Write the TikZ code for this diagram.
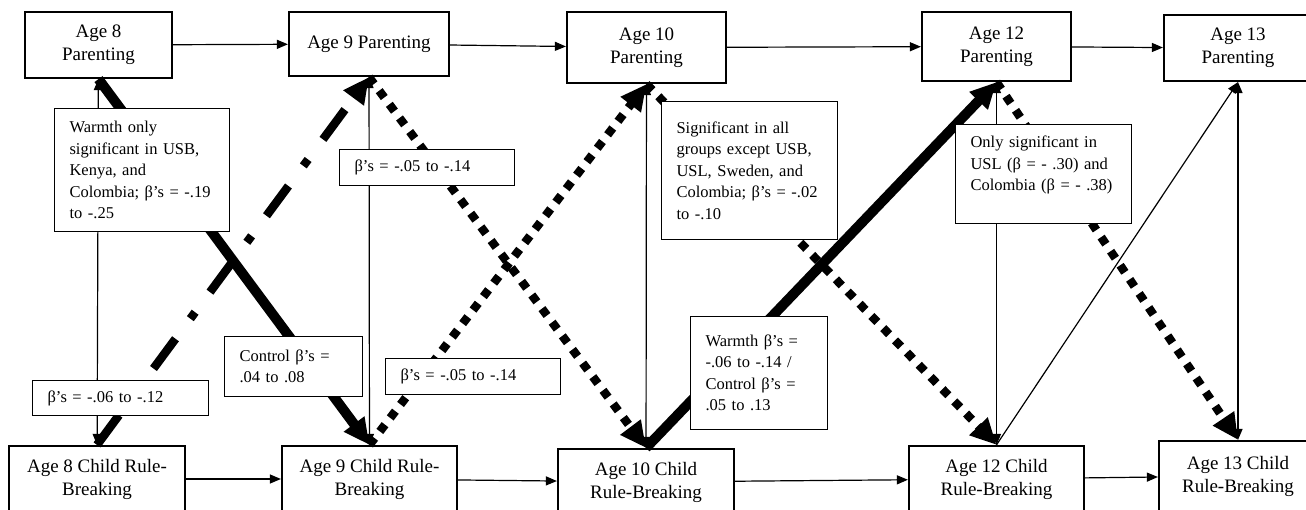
\documentclass[tikz,border=0pt]{standalone}
\usepackage{fontspec}
\setmainfont{Liberation Serif}
\usetikzlibrary{arrows.meta,positioning}
\newcommand\notefont{\fontsize{16.5}{21.5}\selectfont\exhyphenpenalty=10000\relax}
\tikzset{
  wave/.style={rectangle, draw, line width=2.2pt, align=center, inner sep=4pt,
               font=\fontsize{19}{23}\selectfont},
  note/.style={rectangle, draw, line width=1.1pt, fill=white, align=left, anchor=north west,
               inner xsep=15pt, inner ysep=4pt, font=\notefont},
  stab/.style={-{Triangle[length=11pt,width=9pt]}, line width=1.2pt},
  cov/.style={{Triangle[length=11pt,width=9pt]}-{Triangle[length=11pt,width=9pt]}, line width=1.2pt},
  bigpath/.style={-{Triangle[length=26pt,width=24pt]}, line width=10pt},
  dotpath/.style={-{Triangle[length=26pt,width=24pt]}, line width=8.5pt, dash pattern=on 8.5pt off 8.5pt},
  dashdotpath/.style={-{Triangle[length=26pt,width=24pt]}, line width=8.5pt,
                      dash pattern=on 37pt off 25pt on 8pt off 25pt},
}
\begin{document}
\begin{tikzpicture}[x=1pt, y=-1pt]
  \useasboundingbox[fill=white] (0,0) rectangle (1306,510);
  \node[wave, minimum width=147pt, minimum height=66pt] (p8) at (98.5,45) {Age 8\\Parenting};
  \node[wave, minimum width=160pt, minimum height=64pt] (p9) at (369,44) {Age 9 Parenting};
  \node[wave, minimum width=159pt, minimum height=71pt] (p10) at (646.5,47.5) {Age 10\\Parenting};
  \node[wave, minimum width=149pt, minimum height=69pt] (p12) at (996.5,46.5) {Age 12\\Parenting};
  \node[wave, minimum width=148pt, minimum height=66pt] (p13) at (1238,48) {Age 13\\Parenting};
  \node[wave, minimum width=176pt, minimum height=66pt] (c8) at (97,479) {Age 8 Child Rule-\\Breaking};
  \node[wave, minimum width=175pt, minimum height=66pt] (c9) at (369.5,479) {Age 9 Child Rule-\\Breaking};
  \node[wave, minimum width=176pt, minimum height=66pt] (c10) at (646,482) {Age 10 Child\\Rule-Breaking};
  \node[wave, minimum width=175pt, minimum height=66pt] (c12) at (996.5,479) {Age 12 Child\\Rule-Breaking};
  \node[wave, minimum width=158pt, minimum height=70pt] (c13) at (1238,476) {Age 13 Child\\Rule-Breaking};

  \draw[stab] (p8) -- (p9);
  \draw[stab] (p9) -- (p10);
  \draw[stab] (p10) -- (p12);
  \draw[stab] (p12) -- (p13);
  \draw[stab] (c8) -- (c9);
  \draw[stab] (c9) -- (c10);
  \draw[stab] (c10) -- (c12);
  \draw[stab] (c12) -- (c13);
  \draw[cov] (p8) -- (c8);
  \draw[cov] (p9) -- (c9);
  \draw[cov] (p10) -- (c10);
  \draw[cov] (p12) -- (c12);
  \draw[cov] (p13) -- (c13);

  \draw[bigpath] (p8.south) -- (c9.north);
  \draw[dashdotpath] (c8.north) -- (p9.south);
  \draw[dotpath] (p9.south) -- (c10.north);
  \draw[dotpath] (c9.north) -- (p10.south);
  \draw[dotpath] (p10.south) -- (c12.north);
  \draw[bigpath] (c10.north) -- (p12.south);
  \draw[dotpath] (p12.south) -- (c13.north);
  \draw[stab] (c12.north) -- (p13.south);

  \node[note, text width=145pt, minimum height=123pt] (warm8) at (54,108)
    {Warmth only\\significant in USB,\\Kenya, and\\Colombia;~β's~=~-.19\\to -.25};
  \node[note, text width=145pt, minimum height=36pt] (beta9) at (339,149) {β's = -.05 to -.14};
  \node[note, text width=146pt, minimum height=138pt] (sig10) at (661,101)
    {Significant in all\\groups~except~USB,\\USL, Sweden, and\\Colombia;~β's~=~-.02\\to -.10};
  \node[note, text width=146pt, minimum height=99pt] (only12) at (955,124)
    {Only significant in\\USL~(β~=~-~.30)~and\\Colombia~(β~=~-~.38)\\~};
  \node[note, text width=146pt, minimum height=35pt] (beta8) at (32,380) {β's = -.06 to -.12};
  \node[note, text width=108pt, minimum height=60pt] (ctrl9) at (224,336) {Control β's =\\.04 to .08};
  \node[note, text width=145pt, minimum height=36pt] (beta10) at (385,358) {β's = -.05 to -.14};
  \node[note, text width=107pt, minimum height=113pt] (mix12) at (690,316)
    {Warmth β's =\\-.06 to -.14 /\\Control β's =\\.05 to .13};
\end{tikzpicture}
\end{document}
